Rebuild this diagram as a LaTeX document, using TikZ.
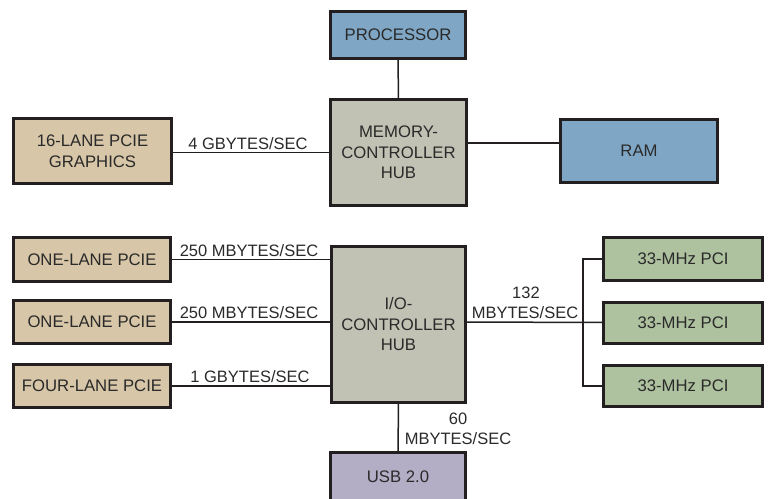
\documentclass[tikz,border=0pt]{standalone}
\usepackage{fontspec}
\setmainfont{Liberation Sans}
\definecolor{txt}{HTML}{2A2A2A}
\definecolor{edge}{HTML}{231F20}
\definecolor{cblue}{HTML}{7FA7C5}
\definecolor{cgray}{HTML}{C2C2B4}
\definecolor{ctan}{HTML}{D7C6A7}
\definecolor{cgreen}{HTML}{AFC29F}
\definecolor{cpurple}{HTML}{B3AEC5}
\begin{document}
\begin{tikzpicture}[x=1pt,y=-1pt,
  box/.style={draw=edge, line width=3pt, inner sep=0pt, outer sep=0pt, align=center,
    text=txt, font=\fontsize{16.7}{20.5}\selectfont},
  conn/.style={draw=edge, line width=1.5pt},
  lbl/.style={text=txt, font=\fontsize{16.5}{20}\selectfont, inner sep=0pt, anchor=base}]
\useasboundingbox (0,0) rectangle (768,498);
% boxes
\node[box, fill=cblue, minimum width=135pt, minimum height=47pt] (proc) at (398,35) {PROCESSOR};
\node[box, fill=cgray, minimum width=136pt, minimum height=106pt] (mch) at (398.5,152.5) {MEMORY-\\CONTROLLER\\HUB};
\node[box, fill=ctan, minimum width=158pt, minimum height=65pt] (gfx) at (92.5,151) {16-LANE PCIE\\GRAPHICS};
\node[box, fill=cblue, minimum width=157pt, minimum height=63pt] (ram) at (639,151) {RAM};
\node[box, fill=cgray, minimum width=134pt, minimum height=156pt] (ioch) at (398.5,324.5) {I/O-\\CONTROLLER\\HUB};
\node[box, fill=ctan, minimum width=157pt, minimum height=44pt] (one1) at (92,259.5) {ONE-LANE PCIE};
\node[box, fill=ctan, minimum width=157pt, minimum height=43pt] (one2) at (92,322) {ONE-LANE PCIE};
\node[box, fill=ctan, minimum width=157pt, minimum height=43pt] (four) at (92,386) {FOUR-LANE PCIE};
\node[box, fill=cgreen, minimum width=159pt, minimum height=43pt] (pci1) at (683,259) {33-MHz PCI};
\node[box, fill=cgreen, minimum width=159pt, minimum height=41pt] (pci2) at (683,322.5) {33-MHz PCI};
\node[box, fill=cgreen, minimum width=159pt, minimum height=41pt] (pci3) at (683,386) {33-MHz PCI};
\node[box, fill=cpurple, minimum width=135pt, minimum height=50pt] (usb) at (398,477) {USB 2.0};
\coordinate (j) at (583,322);
% connectors
\draw[conn] (proc.south) -- (mch.north);
\draw[conn] (gfx.east |- mch.west) -- (mch.west);
\draw[conn] ([yshift=8pt]ram.west) -- ([yshift=8pt]ram.west -| mch.east);
\draw[conn] (one1.east) -- (one1.east -| ioch.west);
\draw[conn] (one2.east) -- (one2.east -| ioch.west);
\draw[conn] (four.east) -- (four.east -| ioch.west);
\draw[conn] (j -| ioch.east) -- (pci2.west);
\draw[conn] (pci1.west) -- (pci1.west -| j) -- (pci3.west -| j) -- (pci3.west);
\draw[conn] (ioch.south) -- (usb.north);
% labels
\node[lbl] (l1) at (248,149) {4 GBYTES/SEC};
\node[lbl] (l2) at (249,256) {250 MBYTES/SEC};
\node[lbl] (l3) at (249,318) {250 MBYTES/SEC};
\node[lbl] (l4) at (250,382) {1 GBYTES/SEC};
\node[lbl] (l5) at (526,298) {132};
\node[lbl] (l6) at (525,318) {MBYTES/SEC};
\node[lbl] (l7) at (458,424) {60};
\node[lbl] (l8) at (458,444) {MBYTES/SEC};
\end{tikzpicture}
\end{document}
